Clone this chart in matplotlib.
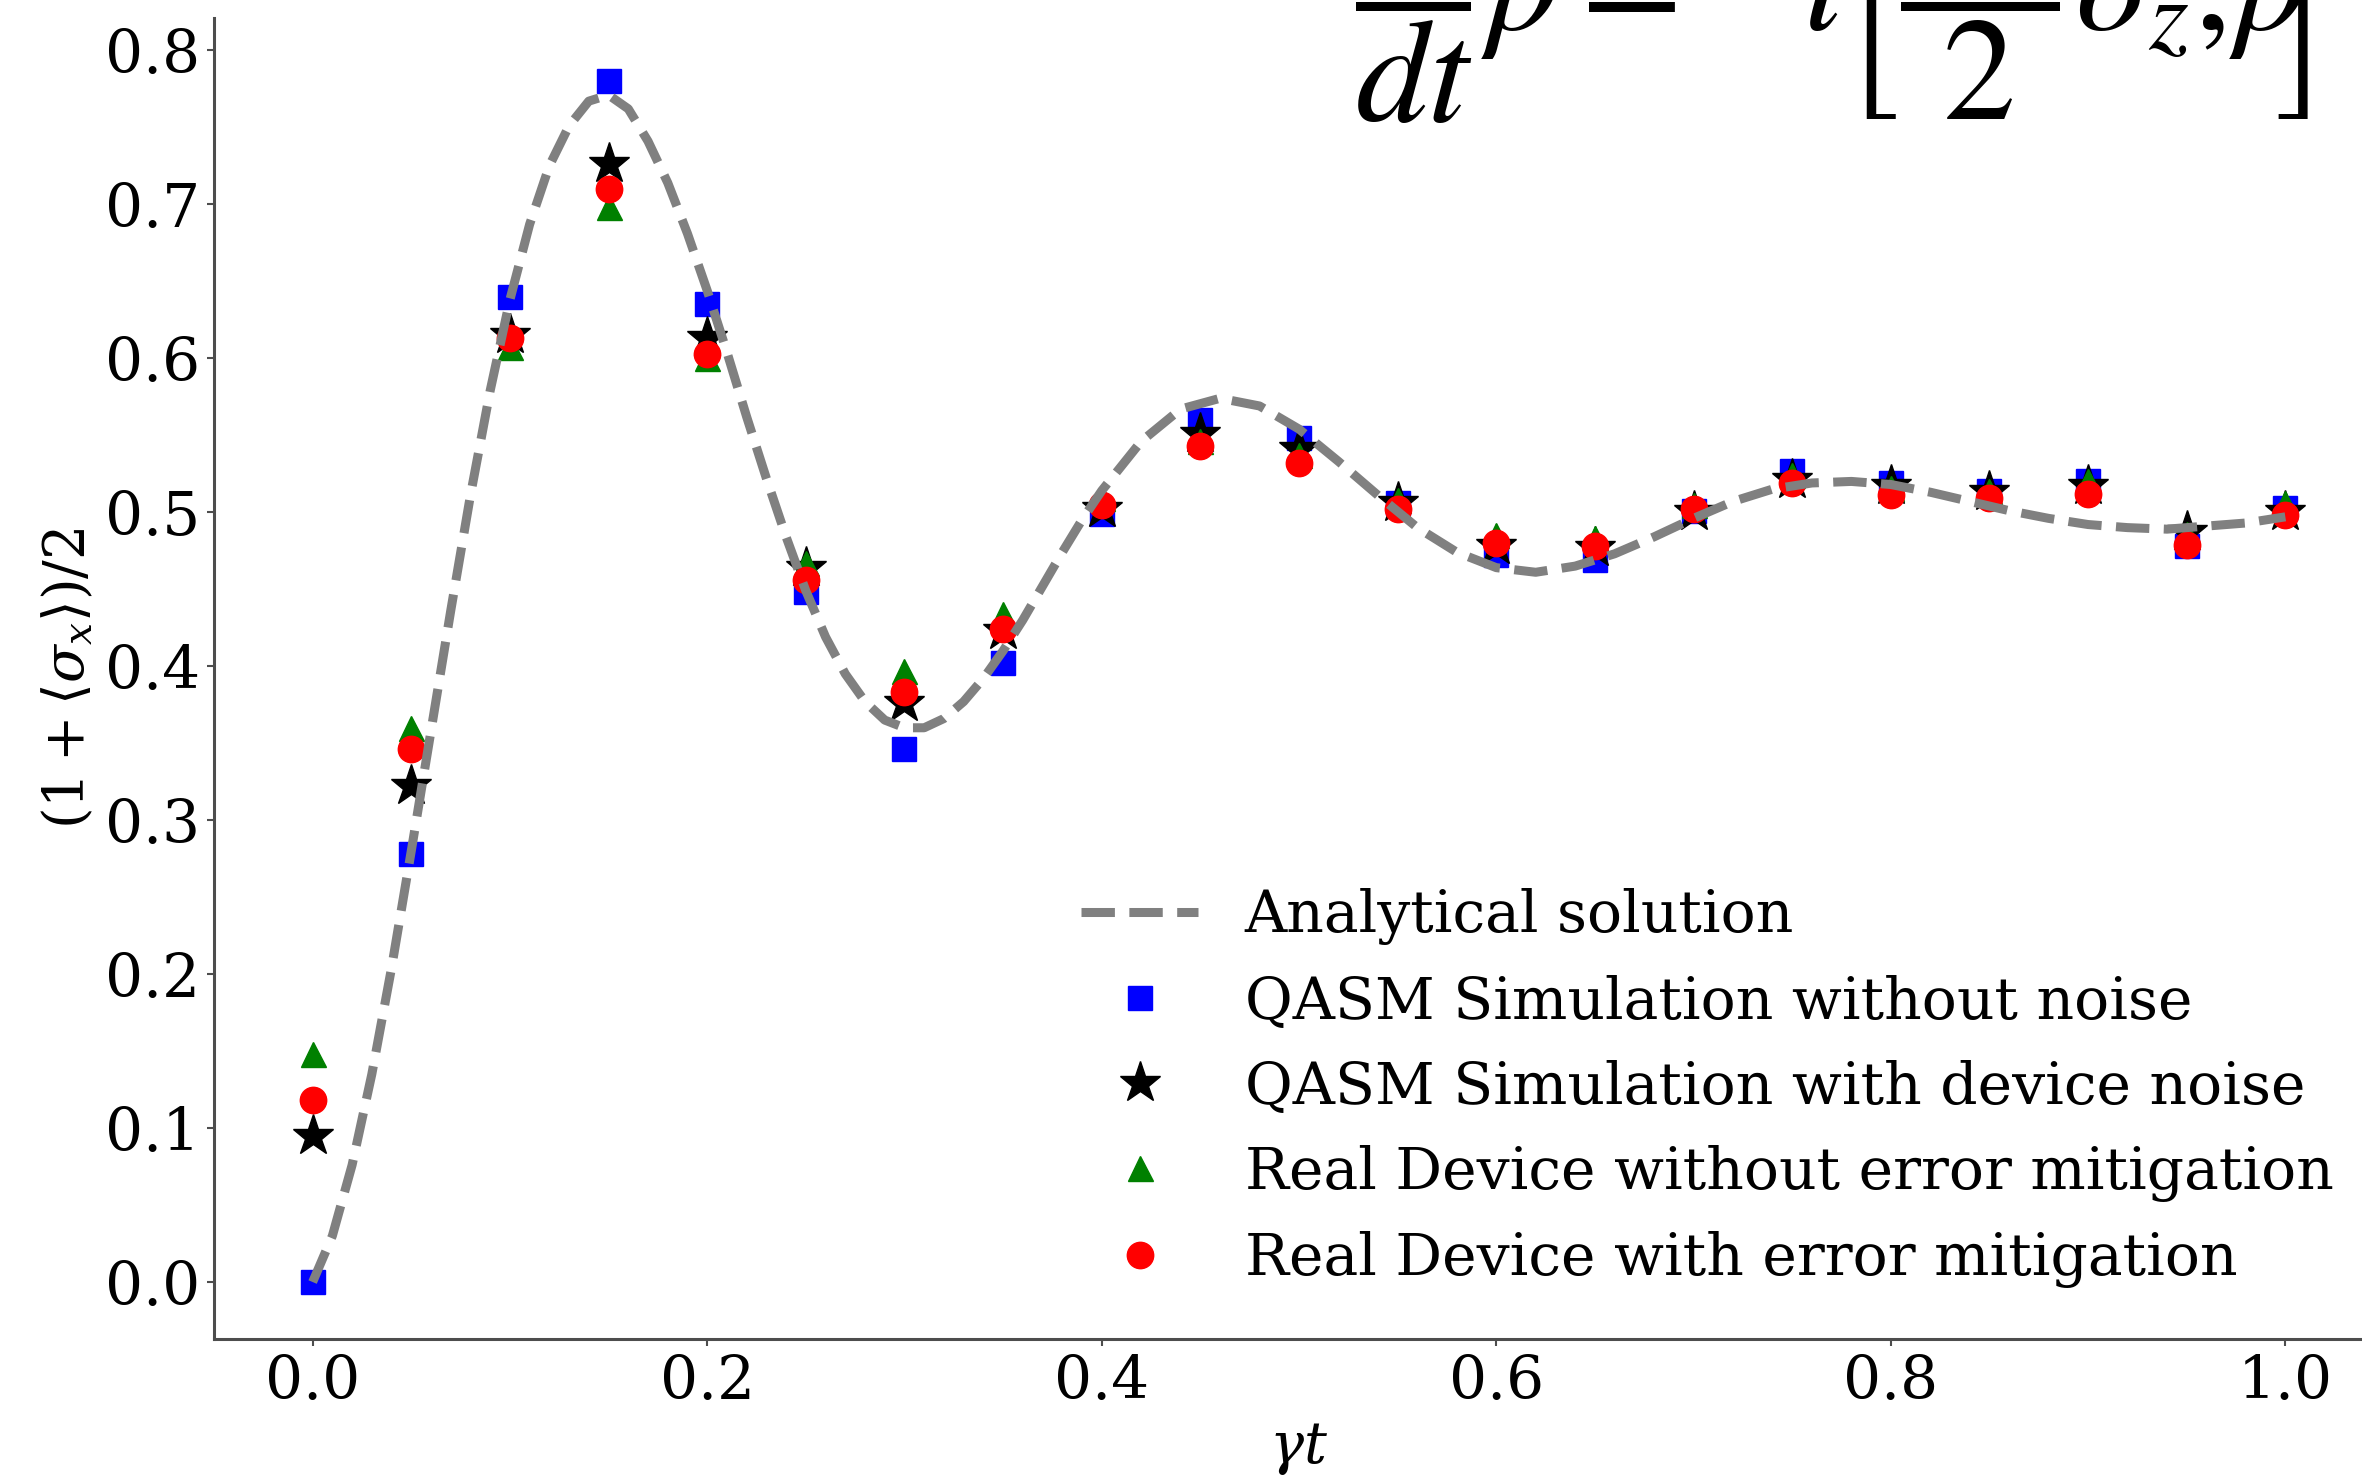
import matplotlib
matplotlib.use("Agg")
import matplotlib.pyplot as plt

plt.rcParams['font.family'] = ['DejaVu Serif']
plt.rcParams['mathtext.fontset'] = 'dejavuserif'

# sample times of the quantum runs
t_points = [0.00, 0.05, 0.10, 0.15, 0.20, 0.25, 0.30, 0.35, 0.40, 0.45, 0.50,
            0.55, 0.60, 0.65, 0.70, 0.75, 0.80, 0.85, 0.90, 0.95, 1.00]

qasm_ideal = [0.000, 0.278, 0.640, 0.780, 0.635, 0.448, 0.346, 0.402, 0.499, 0.560, 0.548,
              0.506, 0.472, 0.469, 0.501, 0.527, 0.519, 0.514, 0.520, 0.478, 0.503]
qasm_noise = [0.095, 0.322, 0.615, 0.726, 0.613, 0.464, 0.376, 0.423, 0.502, 0.551, 0.541,
              0.506, 0.478, 0.477, 0.500, 0.521, 0.517, 0.513, 0.517, 0.487, 0.500]
device_raw = [0.148, 0.360, 0.607, 0.698, 0.600, 0.467, 0.397, 0.434, 0.509, 0.546, 0.537,
              0.508, 0.485, 0.483, 0.505, 0.524, 0.516, 0.514, 0.520, 0.486, 0.506]
device_mitig = [0.118, 0.346, 0.613, 0.710, 0.603, 0.456, 0.383, 0.424, 0.505, 0.543, 0.532,
                0.502, 0.480, 0.478, 0.502, 0.519, 0.511, 0.509, 0.512, 0.479, 0.498]

# analytical curve
t_curve = [0.00, 0.01, 0.02, 0.03, 0.04, 0.05, 0.06, 0.07, 0.08, 0.09,
           0.10, 0.11, 0.12, 0.13, 0.14, 0.15, 0.16, 0.17, 0.18, 0.19,
           0.20, 0.21, 0.22, 0.23, 0.24, 0.25, 0.26, 0.27, 0.28, 0.29,
           0.30, 0.31, 0.32, 0.33, 0.34, 0.35, 0.36, 0.37, 0.38, 0.39,
           0.40, 0.42, 0.44, 0.46, 0.48, 0.50, 0.52, 0.54, 0.56, 0.58,
           0.60, 0.62, 0.64, 0.66, 0.68, 0.70, 0.72, 0.74, 0.76, 0.78,
           0.80, 0.82, 0.84, 0.86, 0.88, 0.90, 0.92, 0.94, 0.96, 0.98, 1.00]
analytic = [0.000, 0.030, 0.076, 0.135, 0.204, 0.280, 0.358, 0.436, 0.511, 0.579,
            0.638, 0.687, 0.725, 0.751, 0.767, 0.771, 0.762, 0.741, 0.714, 0.681,
            0.644, 0.604, 0.562, 0.522, 0.484, 0.449, 0.419, 0.395, 0.377, 0.365,
            0.360, 0.360, 0.366, 0.377, 0.392, 0.410, 0.430, 0.452, 0.474, 0.495,
            0.514, 0.546, 0.567, 0.574, 0.569, 0.554, 0.533, 0.511, 0.490, 0.474,
            0.464, 0.461, 0.465, 0.473, 0.484, 0.496, 0.507, 0.515, 0.519, 0.520,
            0.518, 0.513, 0.507, 0.501, 0.496, 0.492, 0.490, 0.489, 0.491, 0.493, 0.497]

labels = ["Analytical solution",
          "QASM Simulation without noise",
          "QASM Simulation with device noise",
          "Real Device without error mitigation",
          "Real Device with error mitigation"]

W, H = 2362, 1480
fig = plt.figure(figsize=(W / 100, H / 100), dpi=100)
ax = fig.add_axes([214 / W, 141 / H, 2170 / W, 1321 / H])

p_blue, = ax.plot(t_points, qasm_ideal, 's', color='blue', ms=17, ls='none')
p_star, = ax.plot(t_points, qasm_noise, '*', color='black', ms=31, ls='none')
p_green, = ax.plot(t_points, device_raw, '^', color='green', ms=18, ls='none')
p_red, = ax.plot(t_points, device_mitig, 'o', color='red', ms=19, ls='none')
p_line, = ax.plot(t_curve, analytic, '--', color='grey', lw=6.5, zorder=3)

ax.set_xlim(-0.05, 1.05)
ax.set_ylim(-0.037, 0.821)
ax.set_xticks([0.0, 0.2, 0.4, 0.6, 0.8, 1.0])
ax.set_yticks([0.0, 0.1, 0.2, 0.3, 0.4, 0.5, 0.6, 0.7, 0.8])

for side in ['top', 'right']:
    ax.spines[side].set_visible(False)
for side in ['left', 'bottom']:
    ax.spines[side].set_linewidth(2.2)
    ax.spines[side].set_color('0.3')
ax.tick_params(labelsize=43, length=5, width=1.5, color='0.3', pad=5)

ax.set_xlabel(r'$\gamma t$', fontsize=41, labelpad=7)
ax.set_ylabel(r'$(1 + \langle\sigma_x\rangle)/2$', fontsize=40, labelpad=6)

ax.legend([p_line, p_blue, p_star, p_green, p_red], labels,
          loc='upper left', bbox_to_anchor=(1058 / W, 1 - 865 / H),
          bbox_transform=fig.transFigure, borderaxespad=0,
          frameon=False, fontsize=42, handletextpad=0.8, labelspacing=0.5)

# slide equation, cut off at the top edge
fig.text(1355 / W, 1 - 30 / H,
         r'$\dfrac{d}{dt}\rho = -i\left[\dfrac{\omega_0}{2}\sigma_z,\!\rho\!\!\right] - \gamma$',
         fontsize=105, math_fontfamily='stix', ha='left', va='baseline')

fig.savefig('out.png', dpi=100)
